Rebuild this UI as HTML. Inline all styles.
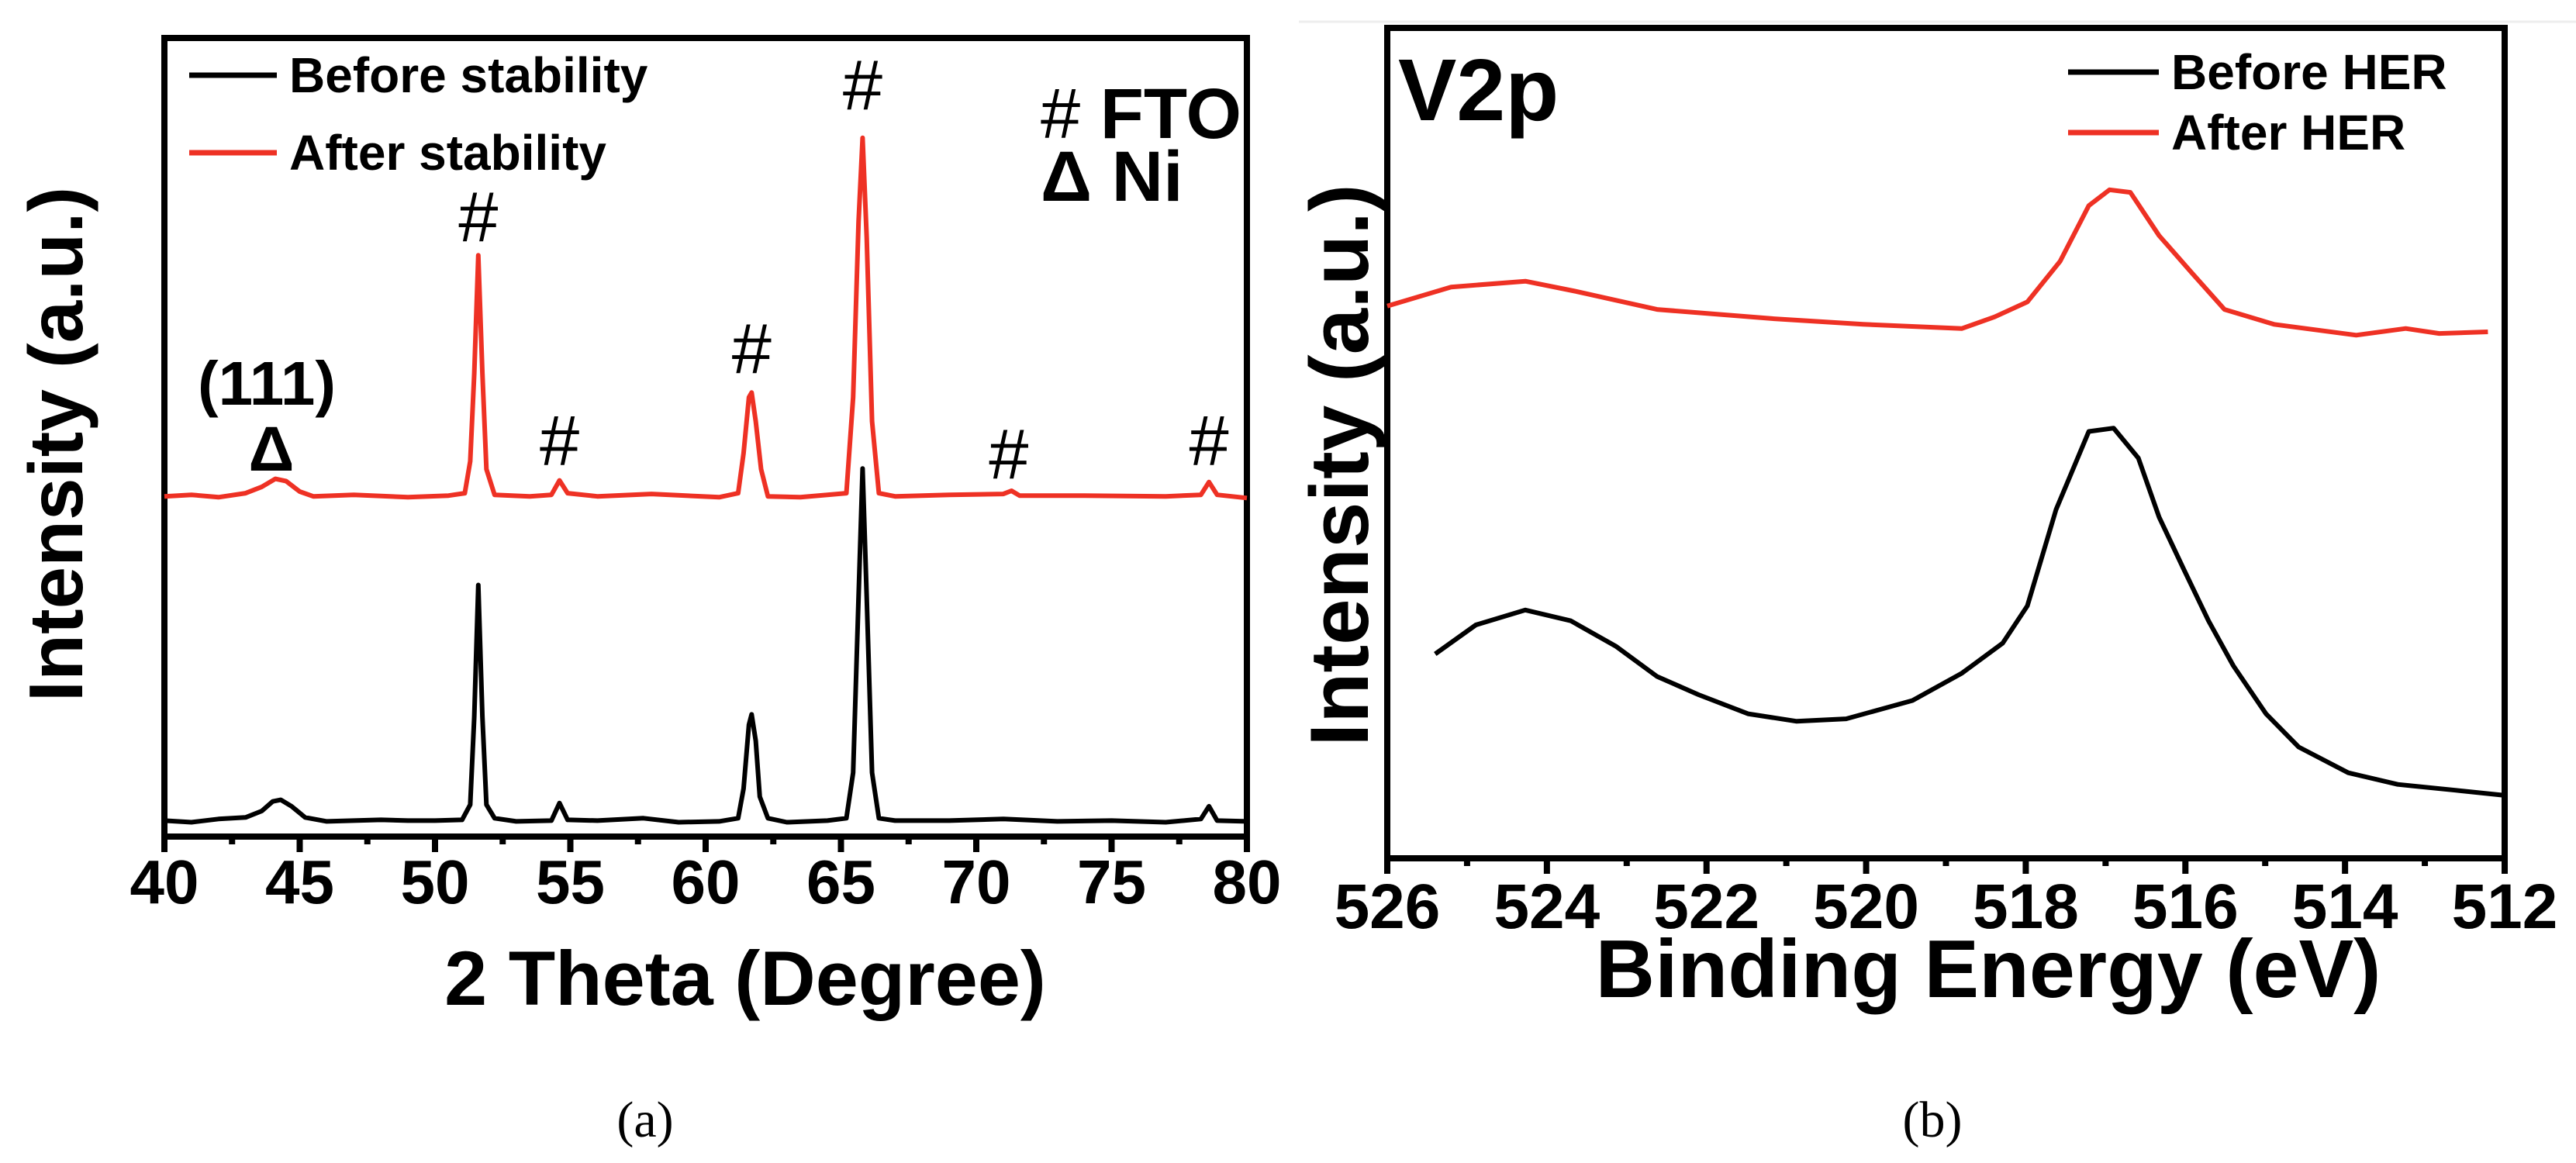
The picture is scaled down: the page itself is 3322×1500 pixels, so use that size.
<!DOCTYPE html>
<html><head><meta charset="utf-8"><style>
html,body{margin:0;padding:0;background:#fff}
svg text{font-family:"Liberation Sans",Arial,sans-serif;font-weight:bold;fill:#000}
</style></head><body>
<svg id="fig" width="3322" height="1495" viewBox="0 0 3322 1495" xmlns="http://www.w3.org/2000/svg">
<rect width="3322" height="1495" fill="#fff"/>
<line x1="1675" y1="28" x2="3322" y2="28" stroke="#eee" stroke-width="3"/>
<g id="pa"></g>
<g id="pb"></g>
</svg>
<script>
// Panel (a) XRD data
const xrdBeforeX=[40,41,42,43,43.6,44.0,44.3,44.7,45.2,46,47,48,49,50,51.0,51.3,51.45,51.6,51.75,51.9,52.2,53,54.3,54.6,54.9,56,57.7,59,60.5,61.2,61.4,61.6,61.7,61.85,62.0,62.3,63,64.5,65.2,65.45,65.65,65.8,65.95,66.15,66.4,67,69,71,73,75,77,78.3,78.6,78.9,80];
const xrdBeforeY=[2.0,1.8,2.2,2.4,3.2,4.4,4.6,3.8,2.4,1.9,2.0,2.1,2.0,2.0,2.1,4,15,31.5,15,4,2.3,1.9,2.0,4.2,2.1,2.0,2.3,1.8,1.9,2.3,6,14,15.3,12,5,2.3,1.8,2.0,2.3,8,30,46.1,30,8,2.3,2.0,2.0,2.2,1.9,2.0,1.8,2.2,3.8,2.0,1.9];
const xrdAfterX=[40,41,42,43,43.6,44.1,44.5,45,45.5,47,49,50.5,51.1,51.3,51.45,51.6,51.75,51.9,52.2,53.5,54.3,54.6,54.9,56,58,60.5,61.2,61.4,61.6,61.7,61.85,62.05,62.3,63.5,65.2,65.45,65.65,65.8,65.95,66.15,66.4,67,69,71,71.3,71.6,74,77,78.3,78.6,78.9,80];
const xrdAfterY=[42.6,42.8,42.5,43.0,43.8,44.8,44.5,43.2,42.6,42.8,42.5,42.7,43,47,58,72.8,58,46,42.8,42.6,42.8,44.6,43,42.6,42.9,42.5,43,48,55,55.6,52,46,42.6,42.5,43,55,77,87.5,75,52,43,42.6,42.8,42.9,43.3,42.7,42.7,42.6,42.8,44.4,42.8,42.4];
const xrdTicks=[40,45,50,55,60,65,70,75,80];
const xrdHashX=[51.6,54.6,61.7,65.8,71.2,78.6];
const xrdHashY=[74.5,46.5,58.0,91.0,44.8,46.5];
// Panel (b) XPS data
const xpsAfterX=[526.0,525.2,524.27,523.65,522.62,521.18,520.04,518.8,518.39,517.98,517.57,517.21,516.95,516.69,516.33,515.92,515.51,514.89,513.86,513.24,512.82,512.21];
const xpsAfterY=[66.5,68.8,69.5,68.3,66.1,65.0,64.3,63.8,65.2,67.0,71.9,78.6,80.5,80.2,75.0,70.5,66.1,64.3,63.0,63.8,63.2,63.4];
const xpsBeforeX=[525.4,524.89,524.27,523.7,523.13,522.62,522.1,521.48,520.87,520.25,519.42,518.8,518.29,517.98,517.62,517.21,516.9,516.59,516.33,516.02,515.71,515.4,514.99,514.58,513.96,513.34,512.62,512.02];
const xpsBeforeY=[24.6,28.1,29.9,28.6,25.5,21.9,19.7,17.4,16.5,16.8,19.0,22.3,25.9,30.4,42.0,51.4,51.8,48.2,41.1,34.8,28.6,23.2,17.4,13.4,10.3,8.9,8.2,7.6];
const xpsTicks=[526,524,522,520,518,516,514,512];

const NS="http://www.w3.org/2000/svg";
function mk(parent,tag,attrs,txt){const e=document.createElementNS(NS,tag);for(const k in attrs)e.setAttribute(k,attrs[k]);if(txt!==undefined)e.textContent=txt;parent.appendChild(e);return e;}

// ---- Panel a ----
const A={l:212,r:1608,t:49,b:1079,x0:40,x1:80,y0:0,y1:100};
const ax=v=>A.l+(v-A.x0)/(A.x1-A.x0)*(A.r-A.l);
const ay=v=>A.b-(v-A.y0)/(A.y1-A.y0)*(A.b-A.t);
const pa=document.getElementById('pa');
let el;
el=mk(pa,'rect',{x:A.l,y:A.t,width:A.r-A.l,height:A.b-A.t,fill:'none',stroke:'#000','stroke-width':8});


for(let i=0;i<xrdTicks.length;i++){
  const x=ax(xrdTicks[i]);
  el=mk(pa,'line',{x1:x,y1:A.b,x2:x,y2:A.b+20,stroke:'#000','stroke-width':8});
  
  
  if(i<xrdTicks.length-1){const xm=ax(xrdTicks[i]+2.5);
    el=mk(pa,'line',{x1:xm,y1:A.b,x2:xm,y2:A.b+10,stroke:'#000','stroke-width':8});
    
    }
  el=mk(pa,'text',{x:x,y:1165,'font-size':80,'text-anchor':'middle'},String(xrdTicks[i]));
  
  
}
function series(p,X,Y,fx,fy,color,w,name){
  let d='';for(let i=0;i<X.length;i++)d+=(i?'L':'M')+fx(X[i]).toFixed(1)+' '+fy(Y[i]).toFixed(1);
  const e=mk(p,'path',{d:d,fill:'none',stroke:color,'stroke-width':w,'stroke-linejoin':'round'});
  
  
}
series(pa,xrdBeforeX,xrdBeforeY,ax,ay,'#000',6,'before-stability-line');
series(pa,xrdAfterX,xrdAfterY,ax,ay,'#ee3124',6,'after-stability-line');
for(let i=0;i<xrdHashX.length;i++){
  el=mk(pa,'text',{x:ax(xrdHashX[i]),y:ay(xrdHashY[i]),'font-size':92,style:'font-weight:normal','text-anchor':'middle'},'#');
  
  
}
</script>
<svg style="position:absolute;left:0;top:0" width="3322" height="1495" viewBox="0 0 3322 1495" xmlns="http://www.w3.org/2000/svg">
<g>
<line x1="244" y1="97" x2="357" y2="97" stroke="#000" stroke-width="7"/>
<text x="373" y="119" font-size="64">Before stability</text>
<line x1="244" y1="197" x2="357" y2="197" stroke="#ee3124" stroke-width="7"/>
<text x="373" y="219" font-size="64">After stability</text>
<text x="1342" y="178" font-size="92"><tspan style="font-weight:normal">#</tspan> FTO</text>
<text x="1342" y="259" font-size="92">Δ Ni</text>
<text x="344" y="522" font-size="80" text-anchor="middle">(111)</text>
<text x="350" y="607" font-size="82" text-anchor="middle">Δ</text>
<text transform="translate(106,573) rotate(-90)" font-size="98" text-anchor="middle">Intensity (a.u.)</text>
<text x="961" y="1296" font-size="99" text-anchor="middle">2 Theta (Degree)</text>
<text x="832" y="1466" font-size="66" style="font-family:'Liberation Serif',serif;font-weight:normal" text-anchor="middle">(a)</text>

<text x="1803" y="155" font-size="113">V2p</text>
<line x1="2667" y1="93" x2="2784" y2="93" stroke="#000" stroke-width="7"/>
<text x="2800" y="115" font-size="64">Before HER</text>
<line x1="2667" y1="171" x2="2784" y2="171" stroke="#ee3124" stroke-width="7"/>
<text x="2800" y="193" font-size="64">After HER</text>
<text transform="translate(1764,600) rotate(-90)" font-size="107" text-anchor="middle">Intensity (a.u.)</text>
<text x="2564" y="1286" font-size="106" text-anchor="middle">Binding Energy (eV)</text>
<text x="2492" y="1466" font-size="66" style="font-family:'Liberation Serif',serif;font-weight:normal" text-anchor="middle">(b)</text>
</g>
<g id="pb2"></g>
</svg>
<script>
const B={l:1789,r:3230,t:36,b:1107,x0:526,x1:512,y0:0,y1:100};
const bx=v=>B.l+(v-B.x0)/(B.x1-B.x0)*(B.r-B.l);
const by=v=>B.b-(v-B.y0)/(B.y1-B.y0)*(B.b-B.t);
const pb=document.getElementById('pb2');
let eb;
eb=mk(pb,'rect',{x:B.l,y:B.t,width:B.r-B.l,height:B.b-B.t,fill:'none',stroke:'#000','stroke-width':8});


for(let i=0;i<xpsTicks.length;i++){
  const x=bx(xpsTicks[i]);
  eb=mk(pb,'line',{x1:x,y1:B.b,x2:x,y2:B.b+20,stroke:'#000','stroke-width':8});
  
  
  if(i<xpsTicks.length-1){const xm=bx(xpsTicks[i]-1);
    eb=mk(pb,'line',{x1:xm,y1:B.b,x2:xm,y2:B.b+10,stroke:'#000','stroke-width':8});
    
    }
  eb=mk(pb,'text',{x:x,y:1197,'font-size':82,'text-anchor':'middle'},String(xpsTicks[i]));
  
  
}
series(pb,xpsBeforeX,xpsBeforeY,bx,by,'#000',6,'before-her-line');
series(pb,xpsAfterX,xpsAfterY,bx,by,'#ee3124',6,'after-her-line');
</script>
</body></html>
